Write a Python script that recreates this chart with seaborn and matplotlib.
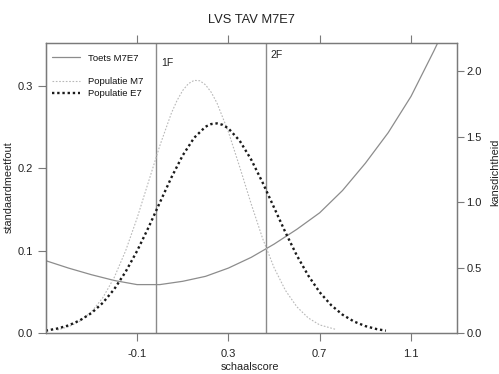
import matplotlib
matplotlib.use("Agg")
import matplotlib.pyplot as plt
from matplotlib.lines import Line2D
import pandas as pd
import seaborn as sns

# Standard error of measurement for the test (left axis)
toets_x = [-0.5, -0.4, -0.3, -0.2, -0.1, 0.0, 0.1, 0.2, 0.3, 0.4, 0.5, 0.6,
           0.7, 0.8, 0.9, 1.0, 1.1, 1.2, 1.3]
toets_sem = [0.088, 0.079, 0.071, 0.064, 0.059, 0.059, 0.063, 0.069, 0.079,
             0.092, 0.108, 0.126, 0.146, 0.173, 0.206, 0.243, 0.287, 0.342, 0.40]

# Population density, group M7 (right axis)
m7_x = [-0.45, -0.40, -0.35, -0.30, -0.25, -0.20, -0.15, -0.10, -0.05, 0.00,
        0.05, 0.075, 0.10, 0.125, 0.15, 0.175, 0.20, 0.225, 0.25, 0.30, 0.35,
        0.40, 0.45, 0.50, 0.55, 0.60, 0.65, 0.70, 0.77]
m7_dens = [0.025, 0.050, 0.093, 0.163, 0.271, 0.425, 0.629, 0.877, 1.154,
           1.431, 1.676, 1.774, 1.851, 1.903, 1.928, 1.925, 1.894, 1.837,
           1.756, 1.536, 1.266, 0.986, 0.723, 0.501, 0.327, 0.202, 0.117,
           0.064, 0.030]

# Population density, group E7 (right axis)
e7_x = [-0.50, -0.45, -0.40, -0.35, -0.30, -0.25, -0.20, -0.15, -0.10, -0.05,
        0.00, 0.05, 0.10, 0.15, 0.20, 0.225, 0.25, 0.275, 0.30, 0.35, 0.40,
        0.45, 0.50, 0.55, 0.60, 0.65, 0.70, 0.75, 0.80, 0.85, 0.90, 0.95, 0.99]
e7_dens = [0.020, 0.036, 0.060, 0.099, 0.154, 0.232, 0.336, 0.469, 0.627,
           0.806, 0.997, 1.186, 1.356, 1.490, 1.575, 1.595, 1.600, 1.589,
           1.562, 1.467, 1.324, 1.149, 0.959, 0.769, 0.593, 0.440, 0.313,
           0.215, 0.142, 0.090, 0.055, 0.032, 0.020]

# Reference levels on the score scale, with the height of their labels
ref_labels = ["1F", "2F"]
ref_pos = [-0.015, 0.465]
ref_label_y = [0.327, 0.337]

x_ticks = [-0.1, 0.3, 0.7, 1.1]
x_tick_labels = ["-0.1", "0.3", "0.7", "1.1"]
left_ticks = [0.0, 0.1, 0.2, 0.3]
right_ticks = [0.0, 0.5, 1.0, 1.5, 2.0]

sns.set_style("white")
plt.rcParams["font.family"] = ["Liberation Sans", "DejaVu Sans"]

frame_col = "#7a7a7a"
text_col = "#222222"
fig = plt.figure(figsize=(4.99, 3.74), dpi=100)
ax = fig.add_axes([0.0916, 0.1088, 0.8236, 0.777])
ax2 = ax.twinx()

toets = pd.DataFrame({"x": toets_x, "y": toets_sem})
m7 = pd.DataFrame({"x": m7_x, "y": m7_dens})
e7 = pd.DataFrame({"x": e7_x, "y": e7_dens})

sns.lineplot(data=toets, x="x", y="y", ax=ax, color="#8c8c8c", lw=0.9,
             sort=False, estimator=None)
sns.lineplot(data=m7, x="x", y="y", ax=ax2, color="#b8b8b8", lw=0.8,
             linestyle=(0, (1.5, 1.5)), sort=False, estimator=None)
sns.lineplot(data=e7, x="x", y="y", ax=ax2, color="#1a1a1a", lw=1.7,
             linestyle=(0, (1, 1.2)), sort=False, estimator=None)

for lab, pos, ly in zip(ref_labels, ref_pos, ref_label_y):
    ax.axvline(pos, color="#8a8a8a", lw=1.0)
    ax.text(pos + 0.02, ly, lab, fontsize=7.5, color=text_col,
            ha="left", va="center")

ax.set_xlim(-0.5, 1.3)
ax.set_ylim(0, 0.352)
ax2.set_ylim(0, 2.215)

ax.set_xticks(x_ticks)
ax.set_xticklabels(x_tick_labels)
ax.set_yticks(left_ticks)
ax.set_yticklabels([f"{v:.1f}" for v in left_ticks])
ax2.set_yticks(right_ticks)
ax2.set_yticklabels([f"{v:.1f}" for v in right_ticks])

ax.tick_params(axis="x", direction="out", length=6, width=0.8,
               color=frame_col, labelsize=8, labelcolor=text_col, pad=5,
               top=True, bottom=True, labeltop=False)
ax.tick_params(axis="y", direction="out", length=6, width=0.8,
               color=frame_col, labelsize=8, labelcolor=text_col, pad=3,
               left=True, right=False)
ax2.tick_params(axis="y", direction="out", length=5, width=0.8,
                color=frame_col, labelsize=8, labelcolor=text_col, pad=2)

for a in (ax, ax2):
    for s in a.spines.values():
        s.set_color(frame_col)
        s.set_linewidth(0.9)
ax.spines["left"].set_color("#555555")

ax.set_xlabel("")
ax.set_ylabel("")
ax2.set_ylabel("")
fig.text(0.5, 0.018, "schaalscore", fontsize=7.8, color=text_col,
         ha="center", va="center")
fig.text(0.018, 0.5, "standaardmeetfout", rotation=90, fontsize=7.8,
         color=text_col, ha="center", va="center")
fig.text(0.993, 0.54, "kansdichtheid", rotation=90, fontsize=7.8,
         color=text_col, ha="center", va="center")
fig.text(0.503, 0.947, "LVS TAV M7E7", fontsize=9.3, color=text_col,
         ha="center", va="center")

handles = [
    Line2D([], [], color="#8c8c8c", lw=0.9),
    Line2D([], [], color="none", lw=0),
    Line2D([], [], color="#b8b8b8", lw=0.8, linestyle=(0, (1.5, 1.5))),
    Line2D([], [], color="#1a1a1a", lw=1.7, linestyle=(0, (1, 1.2))),
]
labels = ["Toets M7E7", " ", "Populatie M7", "Populatie E7"]
leg = ax.legend(handles, labels, loc="upper left",
                bbox_to_anchor=(0.0, 0.985), frameon=False, fontsize=6.8,
                handlelength=2.9, handletextpad=0.9, labelspacing=0.3,
                borderaxespad=0.3)
for t in leg.get_texts():
    t.set_color("#111111")

fig.savefig("out.png", dpi=100)
